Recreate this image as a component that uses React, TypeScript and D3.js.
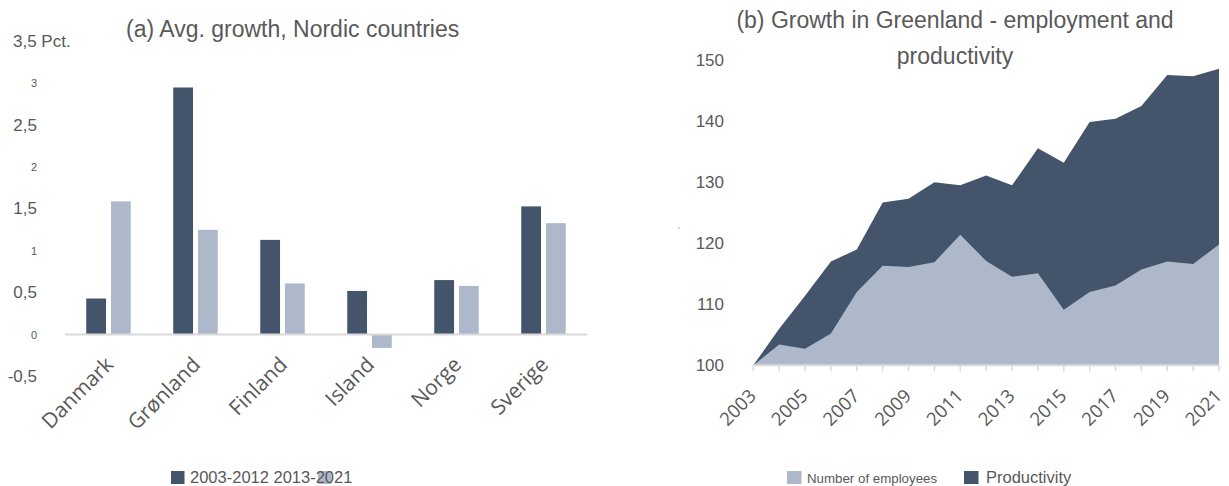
import React from "react";
import * as d3 from "d3";

// ---------- Panel (a) data ----------
const countries = ["Danmark", "Grønland", "Finland", "Island", "Norge", "Sverige"];
const seriesNames = ["2003-2012", "2013-2021"];
const growth2003_2012 = [0.43, 2.95, 1.13, 0.52, 0.65, 1.53];
const growth2013_2021 = [1.59, 1.25, 0.61, -0.16, 0.58, 1.33];
const leftTickValues = [3.5, 3, 2.5, 2, 1.5, 1, 0.5, 0, -0.5];
const leftTickLabels = ["3,5 Pct.", "3", "2,5", "2", "1,5", "1", "0,5", "0", "-0,5"];

// ---------- Panel (b) data ----------
const years = [2003, 2004, 2005, 2006, 2007, 2008, 2009, 2010, 2011, 2012, 2013, 2014, 2015, 2016, 2017, 2018, 2019, 2020, 2021];
const employeesIndex = [100, 103.4, 102.7, 105.2, 112.0, 116.3, 116.1, 116.9, 121.4, 117.1, 114.5, 115.1, 109.1, 112.0, 113.1, 115.7, 117.0, 116.6, 119.8];
const totalIndex = [100, 106.0, 111.4, 117.0, 119.0, 126.7, 127.3, 130.0, 129.5, 131.1, 129.5, 135.6, 133.2, 139.9, 140.4, 142.5, 147.6, 147.4, 148.6];
const rightTickValues = [100, 110, 120, 130, 140, 150];
const yearLabels = [2003, 2005, 2007, 2009, 2011, 2013, 2015, 2017, 2019, 2021];

const DARK = "#44546A";
const LIGHT = "#ADB9CA";
const TEXT = "#595959";
const AXIS = "#D9D9D9";
const SANS = "'Liberation Sans', Arial, sans-serif";
const OPEN = "'Open Sans', sans-serif";

export default function App() {
  // Panel (a) scales
  const x0 = d3.scaleBand<string>().domain(countries).range([65, 587]).padding(0);
  const x1 = d3.scaleBand<string>().domain(seriesNames).range([-22.25, 22.25]).paddingInner(0.2);
  const yA = d3.scaleLinear().domain([0, 3]).range([334.5, 83.3]);
  const seriesVals = [growth2003_2012, growth2013_2021];
  const seriesColors = [DARK, LIGHT];

  // Panel (b) scales
  const xB = d3.scaleLinear().domain([2003, 2021]).range([753.3, 1219]);
  const yB = d3.scaleLinear().domain([100, 150]).range([365.3, 60.3]);
  const areaGen = d3
    .area<number>()
    .x((_, i) => xB(years[i]))
    .y0(() => yB(100))
    .y1((d) => yB(d));

  return (
    <svg
      width={1229}
      height={486}
      style={{ position: "absolute", left: 0, top: 0, background: "#fff" }}
    >
      <rect width={1229} height={486} fill="#fff" />
      {/* ===== Panel (a) ===== */}
      <text x={126} y={36.7} fontFamily={SANS} fontSize={23} fill={TEXT}>
        (a) Avg. growth, Nordic countries
      </text>
      {leftTickValues.map((v, i) => {
        const small = Number.isInteger(v);
        const isTop = i === 0;
        return (
          <text
            key={"lt" + i}
            x={isTop ? 13 : 37}
            y={yA(v)}
            textAnchor={isTop ? "start" : "end"}
            dominantBaseline="central"
            fontFamily={SANS}
            fontSize={small ? 11 : 17}
            fill={TEXT}
          >
            {leftTickLabels[i]}
          </text>
        );
      })}
      {countries.map((c, ci) => (
        <g key={c} transform={`translate(${x0(c)! + x0.bandwidth() / 2},0)`}>
          {seriesNames.map((s, si) => {
            const v = seriesVals[si][ci];
            return (
              <rect
                key={s}
                x={x1(s)!}
                width={x1.bandwidth()}
                y={Math.min(yA(v), yA(0))}
                height={Math.abs(yA(v) - yA(0))}
                fill={seriesColors[si]}
              />
            );
          })}
        </g>
      ))}
      <line x1={65} x2={587} y1={yA(0)} y2={yA(0)} stroke={AXIS} strokeWidth={2} />
      {countries.map((c) => {
        const cx = x0(c)! + x0.bandwidth() / 2 + 6;
        const cy = 366;
        return (
          <text
            key={"cl" + c}
            transform={`translate(${cx},${cy}) rotate(-45)`}
            textAnchor="end"
            fontFamily={OPEN}
            fontSize={21}
            fill={TEXT}
          >
            {c}
          </text>
        );
      })}
      {/* legend (a) */}
      <rect x={171} y={471} width={13.5} height={13} fill={DARK} />
      <rect x={318} y={471} width={13.5} height={13} fill={LIGHT} />
      <text x={190} y={483} fontFamily={SANS} fontSize={16.5} fill={TEXT}>
        {seriesNames.join(" ")}
      </text>

      {/* ===== Panel (b) ===== */}
      <text x={955} y={28.3} textAnchor="middle" fontFamily={SANS} fontSize={23} fill={TEXT}>
        (b) Growth in Greenland - employment and
      </text>
      <text x={955} y={64} textAnchor="middle" fontFamily={SANS} fontSize={23} fill={TEXT}>
        productivity
      </text>
      {rightTickValues.map((v) => (
        <text
          key={"rt" + v}
          x={724}
          y={yB(v)}
          textAnchor="end"
          dominantBaseline="central"
          fontFamily={SANS}
          fontSize={17}
          fill={TEXT}
        >
          {v}
        </text>
      ))}
      <text x={678} y={233} fontFamily={SANS} fontSize={9} fill="#999">
        '
      </text>
      <path d={areaGen(totalIndex) || ""} fill={DARK} />
      <path d={areaGen(employeesIndex) || ""} fill={LIGHT} />
      <line x1={xB(2003)} x2={xB(2021)} y1={yB(100)} y2={yB(100)} stroke={AXIS} strokeWidth={2} />
      {years.map((yr) => (
        <line
          key={"tk" + yr}
          x1={xB(yr)}
          x2={xB(yr)}
          y1={yB(100)}
          y2={yB(100) + 6}
          stroke={AXIS}
          strokeWidth={1.5}
        />
      ))}
      {yearLabels.map((yr) => (
        <text
          key={"yl" + yr}
          transform={`translate(${xB(yr) + 4},397) rotate(-45)`}
          textAnchor="end"
          fontFamily={OPEN}
          fontSize={18.5}
          fill={TEXT}
        >
          {yr}
        </text>
      ))}
      {/* legend (b) */}
      <rect x={787} y={471} width={14.5} height={13} fill={LIGHT} />
      <text x={807} y={483} fontFamily={SANS} fontSize={13.3} fill={TEXT}>
        Number of employees
      </text>
      <rect x={964} y={471} width={14.5} height={13} fill={DARK} />
      <text x={986} y={482.5} fontFamily={SANS} fontSize={16.5} fill={TEXT}>
        Productivity
      </text>
    </svg>
  );
}
